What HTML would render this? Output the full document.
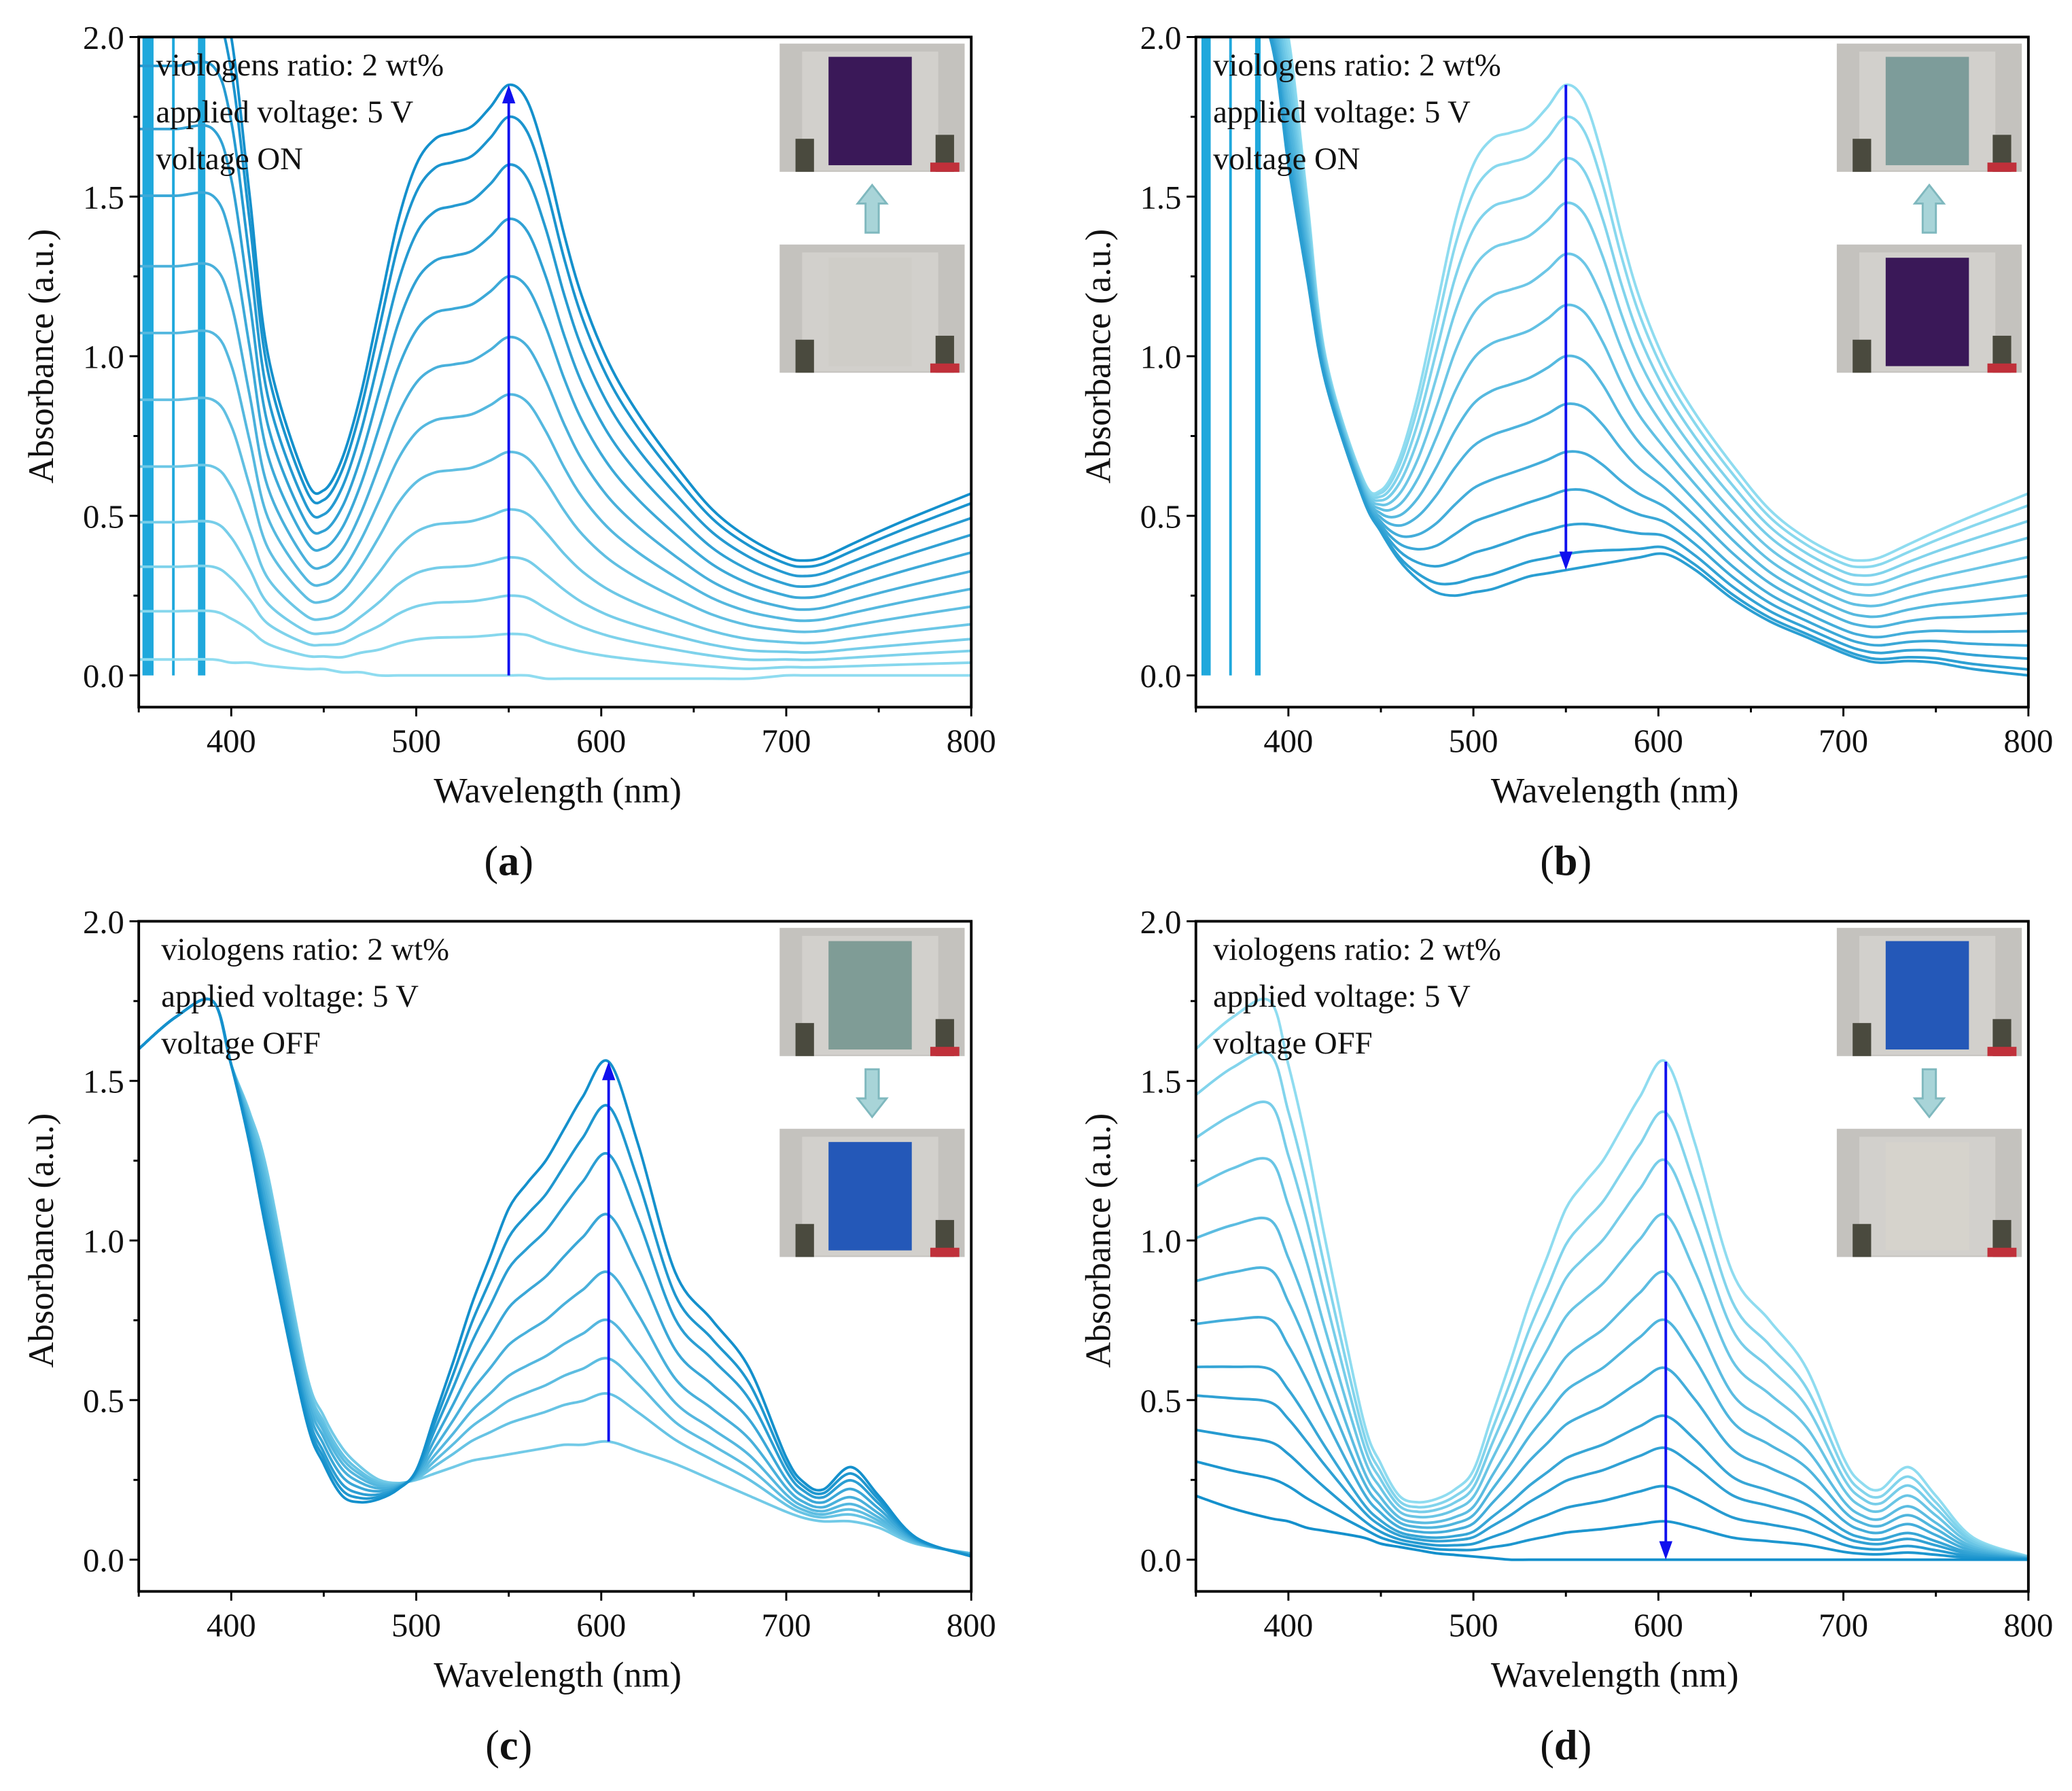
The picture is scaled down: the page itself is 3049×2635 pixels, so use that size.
<!DOCTYPE html>
<html><head><meta charset="utf-8"><style>
html,body{margin:0;padding:0;background:#fff;}
svg{display:block;}
text{font-family:"Liberation Serif",serif;fill:#111;}
</style></head><body>
<svg id="fig" width="3049" height="2635" viewBox="0 0 1568 1355" preserveAspectRatio="none" xmlns="http://www.w3.org/2000/svg">
<rect x="0" y="0" width="1568" height="1355" fill="#fff"/>
</svg>
<script>
// ---- data ----
const knotsWl = [350,370,390,400,410,420,440,450,460,470,480,490,500,510,520,530,540,550,560,570,580,590,604,620,640,660,680,700,710,720,735,750,770,800];
// panel a/b: colored state (max) spectrum
const abMax   = [2.2,2.2,2.2,2.0,1.5,1.0,0.62,0.58,0.68,0.88,1.15,1.42,1.6,1.68,1.7,1.72,1.78,1.85,1.8,1.62,1.38,1.18,0.98,0.82,0.66,0.52,0.43,0.37,0.36,0.37,0.41,0.45,0.5,0.57];
const aMin    = [0.05,0.05,0.05,0.04,0.04,0.03,0.02,0.02,0.01,0.01,0.0,0.0,0.0,0.0,0.0,0.0,0.0,0.0,0.0,-0.01,-0.01,-0.01,-0.01,-0.01,-0.01,-0.01,-0.01,0.0,0.0,0.0,0.0,0.0,0.0,0.0];
const bMin    = [2.2,2.2,2.0,1.6,1.25,0.92,0.56,0.45,0.36,0.3,0.26,0.25,0.26,0.27,0.29,0.31,0.32,0.33,0.34,0.35,0.36,0.37,0.38,0.33,0.24,0.17,0.12,0.07,0.05,0.04,0.045,0.04,0.02,0.0];
const cdMax   = [1.6,1.7,1.75,1.55,1.3,1.0,0.45,0.3,0.2,0.18,0.19,0.22,0.28,0.45,0.62,0.8,0.95,1.1,1.18,1.25,1.35,1.45,1.56,1.3,0.9,0.75,0.6,0.32,0.24,0.22,0.29,0.2,0.07,0.01];
const cMin    = [1.6,1.7,1.75,1.55,1.4,1.2,0.6,0.45,0.35,0.29,0.25,0.24,0.25,0.27,0.29,0.31,0.32,0.33,0.34,0.35,0.36,0.36,0.37,0.34,0.3,0.25,0.2,0.15,0.13,0.12,0.12,0.1,0.05,0.02];
const dMin    = [0.2,0.16,0.13,0.12,0.1,0.09,0.07,0.05,0.04,0.03,0.02,0.015,0.01,0.005,0,0,0,0,0,0,0,0,0,0,0,0,0,0,0,0,0,0,0,0];
const aPeaks = [0.0,0.13,0.25,0.37,0.52,0.7,0.88,1.06,1.25,1.43,1.6,1.75,1.85];
const bPeaks = [1.85,1.75,1.62,1.48,1.32,1.16,1.0,0.85,0.7,0.58,0.47,0.38,0.33];
const cPeaks = [0.37,0.52,0.63,0.75,0.9,1.08,1.27,1.42,1.56];
const dPeaks = [1.56,1.4,1.25,1.08,0.9,0.75,0.6,0.45,0.35,0.23,0.12,0.0];
const xTicks = [400,500,600,700,800];
const yTicks = [0.0,0.5,1.0,1.5,2.0];
const yTickLabels = ["0.0","0.5","1.0","1.5","2.0"];

const NS="http://www.w3.org/2000/svg";
const svg=document.getElementById('fig');
function mk(tag,attrs,parent){const e=document.createElementNS(NS,tag);for(const k in attrs)e.setAttribute(k,attrs[k]);(parent||svg).appendChild(e);return e;}
function lerpColor(c1,c2,t){const a=[1,3,5].map(i=>parseInt(c1.substr(i,2),16)),b=[1,3,5].map(i=>parseInt(c2.substr(i,2),16));return 'rgb('+a.map((v,i)=>Math.round(v+(b[i]-v)*t)).join(',')+')';}

const panels=[
 {id:'a',ox:0,oy:0,max:abMax,min:aMin,peaks:aPeaks,peakWl:550,darkHigh:true,text:'voltage ON',arrow:[550,0.0,1.85],bars:[[352,358],[368,369],[382,386]],
  photos:[['#3a1858','#c4c2be'],['#cfcdc8','#c4c2be']],arrowDir:'up'},
 {id:'b',ox:800,oy:0,max:abMax,min:bMin,peaks:bPeaks,peakWl:550,darkHigh:false,text:'voltage ON',arrow:[550,1.85,0.33],bars:[[353,358],[368,369],[382,385]],
  photos:[['#7d9c9a','#c4c2be'],['#3a1858','#c4c2be']],arrowDir:'up'},
 {id:'c',ox:0,oy:669,max:cdMax,min:cMin,peaks:cPeaks,peakWl:604,darkHigh:true,text:'voltage OFF',arrow:[604,0.37,1.56],bars:[],
  photos:[['#7f9c96','#c4c2be'],['#2458b8','#c4c2be']],arrowDir:'down'},
 {id:'d',ox:800,oy:669,max:cdMax,min:dMin,peaks:dPeaks,peakWl:604,darkHigh:false,text:'voltage OFF',arrow:[604,1.56,0.0],bars:[],
  photos:[['#2458b8','#c4c2be'],['#d6d3cc','#c4c2be']],arrowDir:'down'}
];

function catmull(pts){let d='M'+pts[0][0].toFixed(2)+','+pts[0][1].toFixed(2);
 for(let i=0;i<pts.length-1;i++){const p0=pts[i-1]||pts[i],p1=pts[i],p2=pts[i+1],p3=pts[i+2]||p2;
  const c1=[p1[0]+(p2[0]-p0[0])/6,p1[1]+(p2[1]-p0[1])/6],c2=[p2[0]-(p3[0]-p1[0])/6,p2[1]-(p3[1]-p1[1])/6];
  d+='C'+c1.map(v=>v.toFixed(2)).join(',')+' '+c2.map(v=>v.toFixed(2)).join(',')+' '+p2[0].toFixed(2)+','+p2[1].toFixed(2);}
 return d;}

panels.forEach(p=>{
 const L=105+p.ox,R=735+p.ox,T=28+p.oy,B=535+p.oy;
 const xs=w=>L+(w-350)*(R-L)/450;
 const ys=v=>(511+p.oy)-v*241.5;
 const g=mk('g',{});
 
 
 const cp=mk('clipPath',{id:'clip'+p.id},g);mk('rect',{x:L,y:T,width:R-L,height:B-T},cp);
 const cg=mk('g',{'clip-path':'url(#clip'+p.id+')'},g);
 p.bars.forEach(b=>{const r=mk('rect',{x:xs(b[0]),y:T,width:Math.max(2,xs(b[1])-xs(b[0])),height:ys(0)-T,fill:'#1fa8dc'},cg);
  
  });
 const pk=knotsWl.indexOf(p.peakWl);
 const pmax=p.max[pk],pmin=p.min[pk];
 p.peaks.forEach((pv,k)=>{
  const t=(pv-pmin)/(pmax-pmin);
  const pts=knotsWl.map((w,i)=>[xs(w),ys(p.min[i]+t*(p.max[i]-p.min[i]))]);
  const rank=pv/Math.max(...p.peaks);
  const col=lerpColor('#8fdcf0','#1490cc',p.darkHigh?rank:1-rank);
  const path=mk('path',{d:catmull(pts),fill:'none',stroke:col,'stroke-width':2},cg);
  
  
 });
 // frame
 const fr=mk('rect',{x:L,y:T,width:R-L,height:B-T,fill:'none',stroke:'#000','stroke-width':2},g);
 
 
 // ticks
 for(let w=350;w<=800;w+=50){mk('line',{x1:xs(w),x2:xs(w),y1:B,y2:B+(w%100==0?7:4),stroke:'#000','stroke-width':1.5},g);}
 xTicks.forEach(w=>{const t=mk('text',{x:xs(w),y:B+34,'font-size':25,'text-anchor':'middle'},g);t.textContent=w;
  
  });
 yTicks.forEach((v,i)=>{mk('line',{x1:L-7,x2:L,y1:ys(v),y2:ys(v),stroke:'#000','stroke-width':1.5},g);
  const t=mk('text',{x:L-11,y:ys(v)+9,'font-size':25,'text-anchor':'end'},g);t.textContent=yTickLabels[i];
  
  });
 for(let v=0.25;v<2;v+=0.5)mk('line',{x1:L-4,x2:L,y1:ys(v),y2:ys(v),stroke:'#000','stroke-width':1.5},g);
 const xt=mk('text',{x:(L+R)/2+2,y:B+72,'font-size':27,'text-anchor':'middle'},g);xt.textContent='Wavelength (nm)';
 
 
 const yt=mk('text',{x:0,y:0,'font-size':27,'text-anchor':'middle',transform:'translate('+(L-65)+','+(ys(1)+0)+') rotate(-90)'},g);yt.textContent='Absorbance (a.u.)';
 
 
 ['viologens ratio: 2 wt%','applied voltage: 5 V',p.text].forEach((s,i)=>{const t=mk('text',{x:L+(p.id=='c'?17:13),y:T+29+i*35.5,'font-size':24},g);t.textContent=s;
  
  });
 // blue arrow
 const ax=xs(p.arrow[0]),y1=ys(p.arrow[1]),y2=ys(p.arrow[2]);
 const dir=y2<y1?1:-1;
 const al=mk('line',{x1:ax,x2:ax,y1:y1,y2:y2+dir*10,stroke:'#1010ee','stroke-width':2},g);
 
 
 mk('polygon',{points:`${ax},${y2} ${ax-5},${y2+dir*14} ${ax+5},${y2+dir*14}`,fill:'#1010ee'},g);
 // photos
 const px=L+485,pw=140,ph=97;
 p.photos.forEach((ph2,i)=>{const py=T+5+i*152;
  const pg=mk('g',{},g);
  
  
  mk('rect',{x:px,y:py,width:pw,height:ph,fill:ph2[1]},pg);
  mk('rect',{x:px+17,y:py+6,width:103,height:90,fill:'#d8d6d2',opacity:0.7},pg);
  mk('rect',{x:px+37,y:py+10,width:63,height:82,fill:ph2[0]},pg);
  mk('rect',{x:px+12,y:py+72,width:14,height:25,fill:'#4a4a3e'},pg);
  mk('rect',{x:px+118,y:py+69,width:14,height:28,fill:'#4a4a3e'},pg);
  mk('rect',{x:px+114,y:py+90,width:22,height:7,fill:'#c0303a'},pg);
 });
 // block arrow
 const bx=px+70,by1=T+112,by2=T+148;
 const up=p.arrowDir=='up';
 const ba=mk('polygon',{points:up?
  `${bx},${by1} ${bx-11},${by1+14} ${bx-5},${by1+14} ${bx-5},${by2} ${bx+5},${by2} ${bx+5},${by1+14} ${bx+11},${by1+14}`:
  `${bx},${by2} ${bx-11},${by2-14} ${bx-5},${by2-14} ${bx-5},${by1} ${bx+5},${by1} ${bx+5},${by2-14} ${bx+11},${by2-14}`,
  fill:'#a8d4d8',stroke:'#7fb8be','stroke-width':1.5},g);
 
 
 // panel label
 const lb=mk('text',{x:(L+R)/2-35,y:B+127,'font-size':32,'text-anchor':'middle'},g);
 lb.innerHTML='(<tspan font-weight="bold">'+p.id+'</tspan>)';
 
 
});
</script>
</body></html>
